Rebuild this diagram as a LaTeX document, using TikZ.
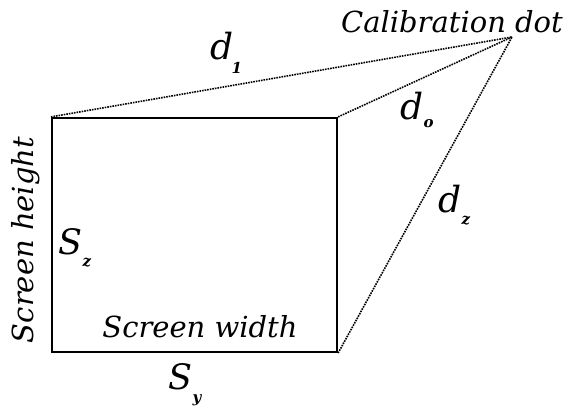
\documentclass[tikz,border=0pt]{standalone}
\usepackage{fontspec}
\setmainfont{DejaVu Serif}
\begin{document}
\begin{tikzpicture}[x=1pt,y=-1pt,
  lbl/.style={inner sep=0pt,font=\itshape\fontsize{29}{33}\selectfont},
  dl/.style={inner sep=0pt,anchor=base west,font=\itshape\fontsize{36}{40}\selectfont},
  sub/.style={inner sep=0pt,anchor=base west,font=\bfseries\itshape\fontsize{15}{18}\selectfont},
  sl/.style={inner sep=0pt,anchor=base west,font=\itshape\fontsize{35}{40}\selectfont},
  dotline/.style={line width=1.6pt,dash pattern=on 1.6pt off 1pt},
  scr/.style={draw,line width=2.2pt,minimum width=285pt,minimum height=234pt,inner sep=0pt}]
\useasboundingbox (0,0) rectangle (568,409);
\node[scr] (screen) at (194.5,235) {};
\coordinate (cal) at (512,37);
\node[lbl,anchor=base] (caltext) at (452,33) {Calibration dot};
\draw[dotline] (screen.north west) -- (cal);
\draw[dotline] (screen.north east) -- (cal);
\draw[dotline] (screen.south east) -- (cal);
\node[dl] (d1) at (210,60) {d};
\node[sub] (d1s) at (d1.base east) [xshift=-2pt,yshift=-14pt] {1};
\node[dl] (d0) at (400,120) {d};
\node[sub] (d0s) at (d0.base east) [yshift=-8pt] {o};
\node[dl] (d2) at (438,213) {d};
\node[sub] (d2s) at (d2.base east) [yshift=-12pt] {z};
\node[sl] (sz) at (58,254) {S};
\node[sub] (szs) at (sz.base east) [yshift=-12pt] {z};
\node[sl] (sy) at (168,389) {S};
\node[sub] (sys) at (sy.base east) [yshift=-13pt] {y};
\node[lbl,anchor=base] (sw) at (200,337) {Screen width};
\node[lbl,anchor=base,rotate=90] (sh) at (33,240) {Screen height};
\end{tikzpicture}
\end{document}
